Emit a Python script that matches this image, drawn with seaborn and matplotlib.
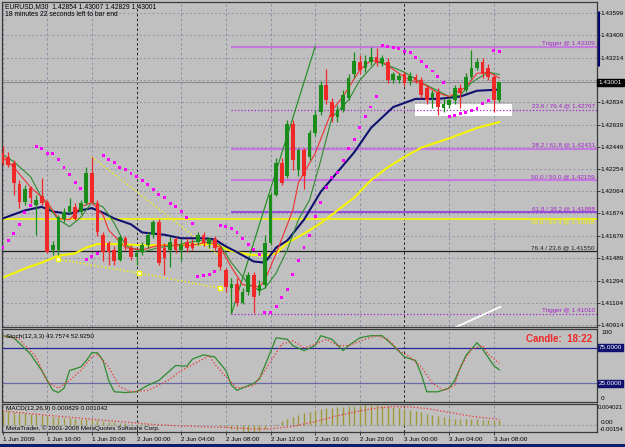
import numpy as np
import matplotlib
matplotlib.use("Agg")
import matplotlib.pyplot as plt
import matplotlib.transforms as mtransforms
from matplotlib.patches import Rectangle
import seaborn as sns

plt.rcParams['font.family'] = ['Liberation Sans', 'DejaVu Sans']

# EURUSD M30 candles, first bar 1 Jun 2009 12:00
opens = [1.4239, 1.4236, 1.4231, 1.4213, 1.4197, 1.4209, 1.4195, 1.4202, 1.4197, 1.4156,
         1.4156, 1.4183, 1.4189, 1.4193, 1.4189, 1.4196, 1.4222, 1.4196, 1.4169, 1.4162,
         1.4156, 1.4147, 1.4166, 1.4158, 1.4150, 1.4154, 1.4160, 1.4169, 1.4180, 1.4158,
         1.4156, 1.4165, 1.4156, 1.4163, 1.4162, 1.4163, 1.4169, 1.4161, 1.4165, 1.4158,
         1.4139, 1.4123, 1.4127, 1.4110, 1.4120, 1.4134, 1.4121, 1.4126, 1.4162, 1.4203,
         1.4231, 1.4220, 1.4264, 1.4225, 1.4242, 1.4236, 1.4257, 1.4275, 1.4298, 1.4283,
         1.4270, 1.4276, 1.4287, 1.4307, 1.4318, 1.4313, 1.4318, 1.4322, 1.4317, 1.4318,
         1.4302, 1.4302, 1.4307, 1.4301, 1.4305, 1.4302, 1.4295, 1.4287, 1.4292, 1.4278,
         1.4281, 1.4285, 1.4295, 1.4294, 1.4305, 1.4313, 1.4318, 1.4313, 1.4305, 1.42854]
highs = [1.4245, 1.4240, 1.4233, 1.4216, 1.4212, 1.4211, 1.4203, 1.4218, 1.4199, 1.4164,
         1.4186, 1.4192, 1.4201, 1.4196, 1.4199, 1.4227, 1.4236, 1.4199, 1.4171, 1.4164,
         1.4159, 1.4169, 1.4168, 1.4160, 1.4156, 1.4163, 1.4171, 1.4182, 1.4183, 1.4162,
         1.4168, 1.4167, 1.4165, 1.4166, 1.4165, 1.4171, 1.4171, 1.4167, 1.4168, 1.4160,
         1.4140, 1.4132, 1.4132, 1.4123, 1.4137, 1.4137, 1.4130, 1.4169, 1.4206, 1.4235,
         1.4235, 1.4268, 1.4268, 1.4244, 1.4244, 1.4259, 1.4276, 1.4301, 1.4312, 1.4287,
         1.4281, 1.4294, 1.4307, 1.4326, 1.4324, 1.4324, 1.4331, 1.4330, 1.4324, 1.4321,
         1.4309, 1.4308, 1.4309, 1.4309, 1.4307, 1.4305, 1.4298, 1.4294, 1.4295, 1.4287,
         1.4288, 1.4298, 1.4299, 1.4308, 1.4328, 1.4321, 1.4321, 1.4316, 1.4307, 1.43007]
lows = [1.4229, 1.4227, 1.4203, 1.4192, 1.4195, 1.4196, 1.4169, 1.4195, 1.4153, 1.4152,
        1.4152, 1.4180, 1.4187, 1.4182, 1.4187, 1.4195, 1.4196, 1.4168, 1.4146, 1.4143,
        1.4143, 1.4146, 1.4156, 1.4147, 1.4143, 1.4152, 1.4158, 1.4166, 1.4143, 1.4134,
        1.4141, 1.4153, 1.4146, 1.4154, 1.4156, 1.4160, 1.4159, 1.4158, 1.4156, 1.4139,
        1.4120, 1.4102, 1.4108, 1.4109, 1.4117, 1.4102, 1.4117, 1.4123, 1.4160, 1.4202,
        1.4212, 1.4218, 1.4225, 1.4220, 1.4208, 1.4233, 1.4254, 1.4272, 1.4282, 1.4266,
        1.4266, 1.4275, 1.4285, 1.4304, 1.4307, 1.4309, 1.4315, 1.4314, 1.4314, 1.4300,
        1.4300, 1.4300, 1.4297, 1.4298, 1.4300, 1.4287, 1.4282, 1.4278, 1.4272, 1.4275,
        1.4278, 1.4282, 1.4278, 1.4292, 1.4303, 1.4311, 1.4304, 1.4302, 1.4275, 1.42829]
closes = [1.4231, 1.4229, 1.4214, 1.4197, 1.4208, 1.4201, 1.4199, 1.4196, 1.4154, 1.4160,
          1.4184, 1.4189, 1.4194, 1.4183, 1.4196, 1.4222, 1.4197, 1.4171, 1.4154, 1.4154,
          1.4146, 1.4167, 1.4160, 1.4150, 1.4153, 1.4160, 1.4169, 1.4180, 1.4145, 1.4149,
          1.4163, 1.4156, 1.4160, 1.4158, 1.4158, 1.4169, 1.4162, 1.4165, 1.4158, 1.4141,
          1.4124, 1.4127, 1.4110, 1.4120, 1.4134, 1.4115, 1.4126, 1.4162, 1.4203, 1.4231,
          1.4214, 1.4264, 1.4233, 1.4242, 1.4220, 1.4257, 1.4272, 1.4298, 1.4285, 1.4270,
          1.4276, 1.4289, 1.4304, 1.4319, 1.4311, 1.4319, 1.4322, 1.4317, 1.4321, 1.4302,
          1.4307, 1.4306, 1.4300, 1.4306, 1.4302, 1.4289, 1.4285, 1.4291, 1.4279, 1.4282,
          1.4285, 1.4295, 1.4291, 1.4305, 1.4313, 1.4318, 1.4307, 1.4305, 1.4285, 1.43001]

# parabolic SAR, one value per bar
sar = [1.4158, 1.4164, 1.4170, 1.4178, 1.4188, 1.4194, 1.4245, 1.4243, 1.4239, 1.4239,
       1.4234, 1.4227, 1.4221, 1.4214, 1.4209, 1.4148, 1.4150, 1.4153, 1.4237, 1.4234,
       1.4231, 1.4227, 1.4225, 1.4222, 1.4219, 1.4216, 1.4212, 1.4208, 1.4204, 1.4201,
       1.4196, 1.4193, 1.4189, 1.4184, 1.4179, 1.4133, 1.4134, 1.4135, 1.4137, 1.4177,
       1.4176, 1.4174, 1.4171, 1.4166, 1.4161, 1.4156, 1.4152, 1.4102, 1.4102, 1.4107,
       1.4115, 1.4122, 1.4135, 1.4147, 1.4158, 1.4168, 1.4185, 1.4197, 1.4210, 1.4218,
       1.4223, 1.4233, 1.4243, 1.4251, 1.4261, 1.4271, 1.4279, 1.4288, 1.4332, 1.4331,
       1.4330, 1.4329, 1.4327, 1.4326, 1.4322, 1.4318, 1.4314, 1.4310, 1.4305, 1.4300,
       1.4271, 1.4272, 1.4273, 1.4274, 1.4276, 1.4278, 1.4282, 1.4285, 1.4328, 1.4327]

# moving averages read at a few bars
navy_idx = [0, 4, 7, 9, 12, 14, 16, 18, 20, 23, 25, 29, 32, 36, 38, 40, 42, 45, 47, 49,
            51, 54, 57, 60, 63, 66, 70, 74, 78, 82, 85, 89]
navy_ma = [1.4183, 1.4190, 1.4193, 1.4189, 1.4187, 1.4190, 1.4192, 1.4188, 1.4183, 1.4178,
           1.4171, 1.4169, 1.4166, 1.4166, 1.4165, 1.4159, 1.4154, 1.4146, 1.4145, 1.4158,
           1.4164, 1.4182, 1.4206, 1.4223, 1.4240, 1.4261, 1.4279, 1.4286, 1.4286, 1.4288,
           1.4293, 1.4294]
yel_idx = [0, 4, 7, 10, 13, 15, 17, 20, 25, 32, 36, 38, 41, 44, 47, 49, 51, 54, 57, 60,
           63, 66, 69, 72, 75, 80, 85, 89]
yel_ma = [1.4132, 1.4140, 1.4145, 1.4151, 1.4153, 1.4158, 1.4161, 1.4161, 1.4160, 1.4160,
          1.4161, 1.4161, 1.4155, 1.4152, 1.4151, 1.4153, 1.4162, 1.4170, 1.4179, 1.4190,
          1.4201, 1.4216, 1.4227, 1.4236, 1.4244, 1.4252, 1.4261, 1.4266]
red_idx = [0, 2, 5, 8, 10, 12, 14, 16, 18, 19, 22, 25, 28, 31, 34, 37, 39, 41, 43, 46,
           47, 49, 52, 53, 56, 59, 61, 64, 66, 68, 71, 73, 75, 78, 80, 83, 85, 87, 89]
red_ma = [1.4236, 1.4227, 1.4210, 1.4197, 1.4183, 1.4182, 1.4193, 1.4197, 1.4186, 1.4173,
          1.4158, 1.4156, 1.4160, 1.4160, 1.4160, 1.4163, 1.4158, 1.4141, 1.4126, 1.4124,
          1.4130, 1.4153, 1.4190, 1.4214, 1.4239, 1.4276, 1.4288, 1.4311, 1.4319, 1.4318,
          1.4308, 1.4302, 1.4300, 1.4291, 1.4288, 1.4296, 1.4308, 1.4309, 1.4304]
grn_idx = [0, 2, 5, 7, 10, 12, 14, 16, 18, 20, 22, 25, 28, 31, 34, 37, 39, 41, 44, 46,
           47, 49, 51, 53, 55, 57, 59, 62, 64, 67, 69, 72, 75, 78, 80, 82, 84, 87, 89]
grn_ma = [1.4238, 1.4232, 1.4219, 1.4201, 1.4182, 1.4176, 1.4184, 1.4197, 1.4193, 1.4179,
          1.4160, 1.4154, 1.4158, 1.4160, 1.4163, 1.4165, 1.4160, 1.4145, 1.4127, 1.4121,
          1.4123, 1.4136, 1.4156, 1.4182, 1.4199, 1.4233, 1.4270, 1.4285, 1.4302, 1.4318,
          1.4315, 1.4309, 1.4300, 1.4293, 1.4288, 1.4289, 1.4300, 1.4309, 1.4307]

# stochastic (12,3,3)
st_main_idx = [0, 2, 5, 7, 9, 10, 11, 12, 14, 15, 16, 17, 18, 19, 20, 22, 24, 26, 28, 29,
               31, 33, 34, 36, 38, 40, 41, 42, 45, 46, 48, 49, 51, 52, 54, 56, 57, 59, 61, 62,
               64, 66, 68, 70, 72, 74, 75, 76, 78, 80, 81, 83, 85, 86, 88, 89]
st_main = [92, 89, 66, 43, 15, 12, 18, 43, 48, 57, 68, 68, 57, 29, 13, 12, 13, 22, 29, 36,
           50, 49, 59, 65, 62, 43, 22, 15, 25, 31, 69, 89, 87, 78, 71, 78, 92, 87, 71, 78,
           89, 92, 92, 78, 62, 57, 38, 13, 13, 18, 29, 64, 82, 73, 50, 43.7574]
st_sig_idx = [0, 3, 6, 8, 10, 12, 14, 16, 17, 19, 21, 23, 26, 28, 30, 32, 35, 37, 38, 40,
              42, 45, 47, 50, 52, 54, 56, 58, 60, 62, 65, 67, 69, 71, 73, 75, 77, 79, 81, 82,
              84, 86, 87, 89]
st_sig = [92, 87, 62, 27, 18, 29, 43, 62, 66, 48, 20, 13, 15, 22, 31, 43, 55, 64, 52, 34,
          18, 22, 43, 80, 85, 75, 80, 87, 78, 78, 87, 92, 87, 71, 62, 48, 25, 15, 22, 48,
          73, 78, 66, 52.925]

# MACD (12,26,9)
macd_hist = [0.0027, 0.0027, 0.0026, 0.0025, 0.0024, 0.0022, 0.0021, 0.0019, 0.0018,
             0.0016, 0.0015, 0.0014, 0.0013, 0.0012, 0.0012, 0.0012, 0.0011,
             0.0010, 0.0008, 0.0006, 0.0005, 0.0004, 0.0003, 0.0002, 0.0001,
             0.0001, 0.0001, 0.0001, 0.0000, -0.0001, -0.0001, -0.0001, -0.0001, -0.0001,
             -0.0001, -0.0001, -0.0002, -0.0002, -0.0002,
             -0.0004, -0.0006, -0.0009, -0.0012, -0.0014, -0.0015, -0.0015, -0.0013, -0.0009,
             -0.0004, 0.0002, 0.0007,
             0.0012, 0.0016, 0.0020, 0.0023, 0.0026, 0.0029, 0.0031, 0.0033, 0.0034, 0.0036,
             0.0037, 0.0038, 0.0039, 0.0039, 0.0040, 0.0040, 0.0040, 0.0039, 0.0038, 0.0036,
             0.0034, 0.0032,
             0.0030, 0.0028, 0.0025, 0.0022, 0.0019, 0.0017, 0.0015, 0.0013, 0.0012, 0.0011,
             0.0011, 0.0011, 0.0011, 0.0010, 0.0009, 0.0008, 0.000829]
macd_sig_idx = [0, 9, 18, 26, 32, 40, 45, 48, 52, 56, 60, 64, 67, 70, 73, 76, 80, 84, 89]
macd_sig = [0.0028, 0.0018, 0.0009, 0.0001, -0.0003, -0.0006, -0.0009, -0.0009, -0.0004,
            0.0006, 0.0018, 0.0028, 0.0034, 0.0037, 0.0036, 0.0033, 0.0025, 0.0017, 0.00104]

# horizontal levels (fibo object), drawn from bar 41
fib_prices = [1.43309, 1.42767, 1.42431, 1.42159, 1.41888, 1.41550, 1.41010]
fib_names = ["Trigger @ 1.43309", "23.6 / 76.4 @ 1.42767", "38.2 / 61.8 @ 1.42431",
             "50.0 / 50.0 @ 1.42159", "61.8 / 38.2 @ 1.41888", "76.4 / 23.6 @ 1.41550",
             "Trigger @ 1.41010"]
yellow_level = 1.41828
yellow_name = "35.6 / 64.4 @ 1.41828"
bid = 1.43001

# drawn trend lines (bar, price)
trend_green = ([41, 56], [1.4101, 1.4331])
trend_yel1 = ([16, 39.3], [1.4236, 1.4149])
trend_yel2 = ([9.9, 24.4, 39], [1.4148, 1.4136, 1.4123])
trend_white = ([81, 89.2], [1.4089, 1.4107])
white_box = (73.9, 91.3, 1.4271, 1.4282)

price_ticks = [1.43599, 1.43409, 1.43214, 1.43024, 1.42834, 1.42639, 1.42449, 1.42254,
               1.42064, 1.41874, 1.41679, 1.41489, 1.41294, 1.41104, 1.40914]
time_pos = [0, 8, 16, 24, 32, 40, 48, 56, 64, 72, 80, 88]
time_labels = ["1 Jun 2009", "1 Jun 16:00", "1 Jun 20:00", "2 Jun 00:00", "2 Jun 04:00",
               "2 Jun 08:00", "2 Jun 12:00", "2 Jun 16:00", "2 Jun 20:00", "3 Jun 00:00",
               "3 Jun 04:00", "3 Jun 08:00"]

BG = '#C0C0C0'
GRID = '#8E8EA6'
UP = '#1A8C1A'
DN = '#F02828'
FIBC = '#A426C8'
W, H = 625, 447
FS = 4.6


def frac(x0, y0, x1, y1):
    return [x0 / W, 1 - y1 / H, (x1 - x0) / W, (y1 - y0) / H]


fig = plt.figure(figsize=(W / 100, H / 100), dpi=100, facecolor=BG)
ax = fig.add_axes(frac(2, 2, 597, 327))
ax_st = fig.add_axes(frac(2, 329, 597, 402), sharex=ax)
ax_md = fig.add_axes(frac(2, 404, 597, 432), sharex=ax)

for a in (ax, ax_st, ax_md):
    a.set_facecolor(BG)
    for s in a.spines.values():
        s.set_color('#3A3A3A')
        s.set_linewidth(0.9)
    for t in time_pos:
        day = t in (24, 72)
        a.axvline(t, color='#1E1E1E' if day else GRID, lw=0.7,
                  ls=(0, (2.5, 2.5)), zorder=0.5)

# ---- main price panel ----
for p in price_ticks:
    ax.axhline(p, color=GRID, lw=0.6, ls=(0, (2.5, 2.5)), zorder=0.5)
ax.axhline(bid, color='#8A8A8A', lw=0.8, zorder=0.6)

ax.add_patch(Rectangle((white_box[0], white_box[2]), white_box[1] - white_box[0],
                       white_box[3] - white_box[2], facecolor='white', edgecolor='none', zorder=1))

xr = 106.5
styles = [dict(color='#C47ADC', lw=1.6, ls='-'), dict(color=FIBC, lw=0.9, ls=':'),
          dict(color='#C47ADC', lw=1.6, ls='-'), dict(color='#C47ADC', lw=1.6, ls='-'),
          dict(color='#8A2BE2', lw=1.1, ls='-'), dict(color='#202020', lw=0.9, ls='-'),
          dict(color=FIBC, lw=0.9, ls=':')]
for p, name, st in zip(fib_prices, fib_names, styles):
    x0 = -0.2 if st['color'] == '#202020' else 41
    ax.hlines(p, x0, xr, zorder=1.5, **st)
    tc = '#202020' if st['color'] == '#202020' else FIBC
    ax.text(106.1, p + 0.00008, name, ha='right', va='bottom', fontsize=FS, color=tc, zorder=6)
ax.hlines(yellow_level, -0.2, xr, color='#F5F500', lw=1.2, zorder=1.5)
ax.text(106.1, yellow_level - 0.00002, yellow_name, ha='right', va='top', fontsize=FS,
        color='#F5F500', zorder=6)

ax.plot(*trend_green, color=UP, lw=0.8, zorder=2)
ax.plot(*trend_yel1, color='#F5F500', lw=1.0, ls=':', zorder=2)
ax.plot(*trend_yel2, color='#F5F500', lw=1.0, ls=':', marker='s', ms=2.2,
        mfc='white', mec='#F5F500', zorder=2)
ax.plot(*trend_white, color='white', lw=1.3, zorder=2)

sns.lineplot(x=yel_idx, y=yel_ma, ax=ax, color='#F5F500', linewidth=1.5, legend=False, zorder=2.2)
sns.lineplot(x=navy_idx, y=navy_ma, ax=ax, color='#101070', linewidth=1.5, legend=False, zorder=2.2)
sns.lineplot(x=grn_idx, y=grn_ma, ax=ax, color='#2E8B2E', linewidth=0.8, legend=False, zorder=2.3)
sns.lineplot(x=red_idx, y=red_ma, ax=ax, color='#F03030', linewidth=0.8, legend=False, zorder=2.3)

idx = np.arange(len(opens))
o, hi, lo, c = (np.array(v) for v in (opens, highs, lows, closes))
cols = np.where(c >= o, UP, DN)
ax.vlines(idx, lo, hi, colors=cols, lw=0.9, zorder=3)
ax.bar(idx, np.maximum(np.abs(c - o), 0.00008), bottom=np.minimum(o, c), width=0.66,
       color=cols, linewidth=0, zorder=3.1)

sns.scatterplot(x=idx, y=sar, ax=ax, marker='s', s=4.5, color='#FF00FF',
                edgecolor='none', legend=False, zorder=4)

ax.set_xlim(-0.11, xr)
ax.set_ylim(1.40896, 1.43694)
ax.yaxis.tick_right()
ax.set_yticks(price_ticks)
ax.set_yticklabels(['' if p == 1.43024 else f'{p:.5f}' for p in price_ticks])
ax.tick_params(axis='y', length=1.8, width=0.7, pad=0.6, labelsize=FS, color='#3A3A3A')
ax.tick_params(axis='x', length=0, labelbottom=False)
ax.set_xlabel('')
ax.set_ylabel('')

trans = mtransforms.blended_transform_factory(ax.transAxes, ax.transData)
ax.text(1.003, bid, f'{bid:.5f}', transform=trans, ha='left', va='center', fontsize=FS,
        color='white', bbox=dict(facecolor='black', edgecolor='black', pad=1.0), clip_on=False)
ax.plot([1.002, 1.002], [1.4362, 1.4314], transform=trans, color='#00007A', lw=2.2,
        clip_on=False, solid_capstyle='butt')

# ---- stochastic panel ----
ax_st.axhline(75, color='#24249A', lw=0.9)
ax_st.axhline(25, color='#6A6AA8', lw=0.9)
sns.lineplot(x=st_main_idx, y=st_main, ax=ax_st, color='#2E8B2E', linewidth=0.9, legend=False)
sns.lineplot(x=st_sig_idx, y=st_sig, ax=ax_st, color='#F03030', linewidth=0.9,
             linestyle=':', legend=False)
ax_st.set_ylim(-1.4, 101.4)
ax_st.set_yticks([])
ax_st.tick_params(axis='x', length=0, labelbottom=False)
ax_st.set_xlabel('')
ax_st.set_ylabel('')
tst = mtransforms.blended_transform_factory(ax_st.transAxes, ax_st.transData)
ax_st.text(1.007, 100, '100', transform=tst, ha='left', va='top', fontsize=FS, clip_on=False)
ax_st.text(1.007, 0, '0', transform=tst, ha='left', va='bottom', fontsize=FS, clip_on=False)
for lv in (75, 25):
    ax_st.text(1.003, lv, f'{lv:.4f}', transform=tst, ha='left', va='center', fontsize=FS,
               color='white', bbox=dict(facecolor='#10106E', edgecolor='#10106E', pad=0.8),
               clip_on=False)
ax_st.text(0.006, 0.93, 'Stoch(12,3,3) 43.7574 52.9250', transform=ax_st.transAxes,
           ha='left', va='top', fontsize=FS)
ax_st.text(0.992, 0.93, 'Candle:  18:22', transform=ax_st.transAxes, ha='right', va='top',
           fontsize=7.0, fontweight='bold', color='#F02828')

# ---- MACD panel ----
ax_md.axhline(0, color=GRID, lw=0.6, ls=(0, (2.5, 2.5)))
ax_md.vlines(idx, 0, macd_hist, colors='#A09A3A', lw=1.0)
sns.lineplot(x=macd_sig_idx, y=macd_sig, ax=ax_md, color='#F03030', linewidth=0.9,
             linestyle=':', legend=False)
ax_md.set_ylim(-0.00154, 0.00422)
ax_md.set_yticks([])
ax_md.set_xticks(time_pos)
ax_md.set_xticklabels(time_labels, ha='left', fontsize=FS)
ax_md.tick_params(axis='x', length=2.5, width=0.7, pad=0.8, color='#3A3A3A')
ax_md.set_xlim(-0.11, xr)
ax_md.set_xlabel('')
ax_md.set_ylabel('')
tmd = mtransforms.blended_transform_factory(ax_md.transAxes, ax_md.transData)
x_edge = (623 - 2) / 595
ax_md.text(x_edge, 0.004021, '0.004021', transform=tmd, ha='right', va='top', fontsize=FS - 0.3, clip_on=False)
ax_md.text(1.007, 0.0, '0.00', transform=tmd, ha='left', va='bottom', fontsize=FS, clip_on=False)
ax_md.text(x_edge, -0.00154, '-0.00154', transform=tmd, ha='right', va='bottom', fontsize=FS - 0.3, clip_on=False)
ax_md.text(0.006, 0.92, 'MACD(12,26,9) 0.000829 0.001042', transform=ax_md.transAxes,
           ha='left', va='top', fontsize=FS)
ax_md.text(0.006, 0.02, 'MetaTrader, \u00a9 2001-2008 MetaQuotes Software Corp.',
           transform=ax_md.transAxes, ha='left', va='bottom', fontsize=FS)

# header
fig.text(5 / W, 1 - 3 / H, 'EURUSD,M30  1.42854 1.43007 1.42829 1.43001', ha='left', va='top', fontsize=FS + 0.3)
fig.text(5 / W, 1 - 11 / H, '18 minutes 22 seconds left to bar end', ha='left', va='top', fontsize=FS + 0.3)

# window frame at the bottom
fig.patches.append(Rectangle((0, 0), 1, 3.5 / H, transform=fig.transFigure,
                             facecolor='#0A1E6A', edgecolor='none'))

fig.savefig('out.png', dpi=100, facecolor=BG)
